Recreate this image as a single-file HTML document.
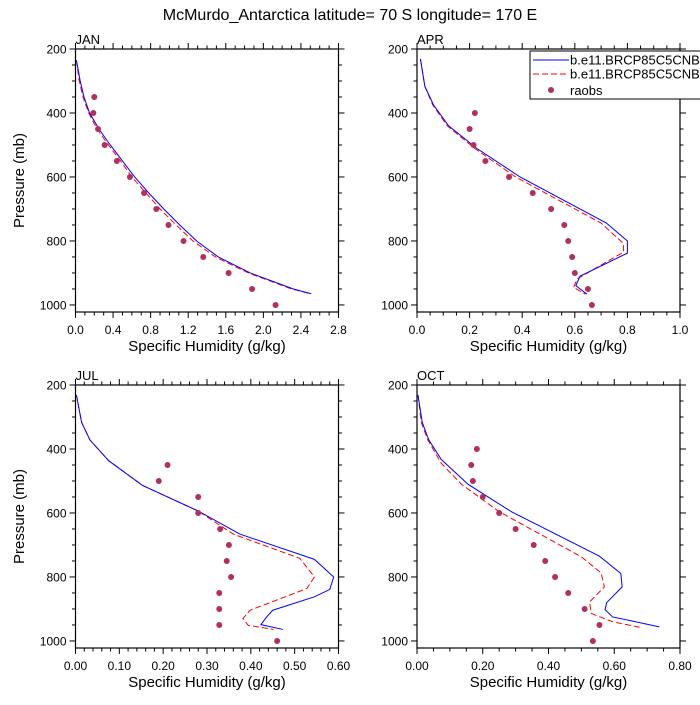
<!DOCTYPE html>
<html><head><meta charset="utf-8"><style>
body{margin:0;background:#fff}
svg text{font-family:"Liberation Sans",sans-serif;fill:#000}
</style></head><body>
<svg id="chart" width="700" height="700" viewBox="0 0 700 700" xmlns="http://www.w3.org/2000/svg">
<text x="350" y="20" font-size="16" text-anchor="middle">McMurdo_Antarctica  latitude= 70 S longitude= 170 E</text>
</svg>
<script>
// JAN
const janBlueP=[235,300,350,400,450,500,550,600,650,700,750,800,850,900,950,965];
const janBlueQ=[0.01,0.05,0.09,0.15,0.25,0.37,0.5,0.63,0.78,0.94,1.11,1.29,1.52,1.86,2.32,2.51];
const janRedP=[235,300,350,400,450,500,550,600,650,700,750,800,850,900,950,965];
const janRedQ=[0.01,0.04,0.08,0.14,0.23,0.35,0.48,0.6,0.75,0.9,1.07,1.25,1.49,1.84,2.3,2.5];
const janObsP=[350,400,450,500,550,600,650,700,750,800,850,900,950,1000];
const janObsQ=[0.2,0.19,0.24,0.31,0.44,0.58,0.73,0.86,0.99,1.15,1.36,1.63,1.88,2.13];
// APR
const aprBlueP=[231,317,375,440,511,600,744,800,838,910,940,966];
const aprBlueQ=[0.013,0.03,0.063,0.12,0.228,0.392,0.72,0.8,0.8,0.62,0.604,0.646];
const aprRedP=[231,317,375,440,511,600,744,808,835,918,945,966];
const aprRedQ=[0.013,0.03,0.06,0.115,0.22,0.375,0.7,0.785,0.785,0.61,0.595,0.64];
const aprObsP=[400,450,500,550,600,650,700,750,800,850,900,950,1000];
const aprObsQ=[0.22,0.2,0.215,0.26,0.35,0.44,0.51,0.56,0.575,0.59,0.6,0.65,0.665];
// JUL
const julBlueP=[231,317,372,437,514,594,666,745,800,839,862,904,925,949,964];
const julBlueQ=[0.002,0.014,0.033,0.076,0.153,0.28,0.375,0.545,0.589,0.58,0.545,0.45,0.436,0.423,0.473];
const julRedP=[231,317,372,437,514,594,666,742,800,836,904,930,951,964];
const julRedQ=[0.002,0.014,0.033,0.076,0.153,0.28,0.36,0.512,0.545,0.528,0.398,0.382,0.394,0.452];
const julObsP=[450,500,550,600,650,700,750,800,850,900,950,1000];
const julObsQ=[0.21,0.19,0.28,0.28,0.33,0.35,0.345,0.355,0.328,0.328,0.328,0.46];
// OCT
const octBlueP=[231,317,372,433,510,596,735,789,831,880,902,925,938,956];
const octBlueQ=[0.003,0.016,0.036,0.074,0.155,0.287,0.555,0.62,0.624,0.577,0.572,0.595,0.656,0.737];
const octRedP=[231,317,372,445,510,596,737,787,831,878,914,940,959];
const octRedQ=[0.003,0.013,0.033,0.074,0.135,0.25,0.5,0.56,0.57,0.525,0.53,0.595,0.686];
const octObsP=[400,450,500,550,600,650,700,750,800,850,900,950,1000];
const octObsQ=[0.182,0.165,0.17,0.2,0.25,0.3,0.355,0.39,0.42,0.46,0.51,0.555,0.535];

const janTicks=["0.0","0.4","0.8","1.2","1.6","2.0","2.4","2.8"];
const aprTicks=["0.0","0.2","0.4","0.6","0.8","1.0"];
const julTicks=["0.00","0.10","0.20","0.30","0.40","0.50","0.60"];
const octTicks=["0.00","0.20","0.40","0.60","0.80"];
const pTicks=[200,400,600,800,1000];

const NS="http://www.w3.org/2000/svg";
const svg=document.getElementById('chart');
function mk(tag,attrs,parent){const e=document.createElementNS(NS,tag);for(const k in attrs)e.setAttribute(k,attrs[k]);(parent||svg).appendChild(e);return e;}

const panels=[
 {id:'jan',label:'JAN',x0:75.5,y0:49,ticks:janTicks,xmax:2.8,minor:0.1,bp:janBlueP,bq:janBlueQ,rp:janRedP,rq:janRedQ,op:janObsP,oq:janObsQ,ytitle:true},
 {id:'apr',label:'APR',x0:417,y0:49,ticks:aprTicks,xmax:1.0,minor:0.05,bp:aprBlueP,bq:aprBlueQ,rp:aprRedP,rq:aprRedQ,op:aprObsP,oq:aprObsQ,ytitle:false},
 {id:'jul',label:'JUL',x0:75.5,y0:385,ticks:julTicks,xmax:0.6,minor:0.02,bp:julBlueP,bq:julBlueQ,rp:julRedP,rq:julRedQ,op:julObsP,oq:julObsQ,ytitle:true},
 {id:'oct',label:'OCT',x0:417,y0:385,ticks:octTicks,xmax:0.8,minor:0.05,bp:octBlueP,bq:octBlueQ,rp:octRedP,rq:octRedQ,op:octObsP,oq:octObsQ,ytitle:false}
];
const W=263,H=263,PMIN=200,PMAX=1022;
panels.forEach(pn=>{
  const g=mk('g',{});
  
  
  const xs=q=>pn.x0+q/pn.xmax*W;
  const ys=p=>pn.y0+(p-PMIN)/(PMAX-PMIN)*H;
  // ticks
  const nMinor=Math.round(pn.xmax/pn.minor);
  const majStep=(pn.ticks.length-1);
  for(let i=0;i<=nMinor;i++){
    const x=pn.x0+i*W/nMinor;
    const isMaj=Math.abs((i*majStep/nMinor)-Math.round(i*majStep/nMinor))<1e-6;
    const len=isMaj?6:3.5;
    const t1=mk('line',{x1:x,x2:x,y1:pn.y0+H,y2:pn.y0+H+len,stroke:'#000','stroke-width':1},g);
    
    const t2=mk('line',{x1:x,x2:x,y1:pn.y0,y2:pn.y0-len,stroke:'#000','stroke-width':1},g);
    
  }
  pn.ticks.forEach((lab,i)=>{
    const t=mk('text',{x:pn.x0+i*W/(pn.ticks.length-1),y:pn.y0+H+22,'font-size':12,'text-anchor':'middle'},g);
    t.textContent=lab;
    
  });
  for(let p=200;p<=1000;p+=50){
    const y=ys(p);const len=(p%200===0)?6:3.5;
    const a=mk('line',{x1:pn.x0-len,x2:pn.x0,y1:y,y2:y,stroke:'#000','stroke-width':1},g);
    
    const b=mk('line',{x1:pn.x0+W,x2:pn.x0+W+len,y1:y,y2:y,stroke:'#000','stroke-width':1},g);
    
  }
  pTicks.forEach(p=>{
    const t=mk('text',{x:pn.x0-9,y:ys(p)+4.5,'font-size':12,'text-anchor':'end'},g);
    t.textContent=p;
    
  });
  const fr=mk('rect',{x:pn.x0,y:pn.y0,width:W,height:H,fill:'none',stroke:'#000','stroke-width':1.2},g);
  
  const lab=mk('text',{x:pn.x0,y:pn.y0-5,'font-size':13},g);lab.textContent=pn.label;
  
  const xt=mk('text',{x:pn.x0+W/2,y:pn.y0+H+39,'font-size':15,'text-anchor':'middle'},g);xt.textContent='Specific Humidity (g/kg)';
  
  if(pn.ytitle){
    const yt=mk('text',{x:0,y:0,'font-size':15,'text-anchor':'middle',transform:`translate(24,${pn.y0+H/2}) rotate(-90)`},g);
    yt.textContent='Pressure (mb)';
    
  }
  const rl=mk('polyline',{points:pn.rp.map((p,i)=>xs(pn.rq[i])+','+ys(p)).join(' '),fill:'none',stroke:'#ff0000','stroke-width':1,'stroke-dasharray':'6,3'},g);
  
  const bl=mk('polyline',{points:pn.bp.map((p,i)=>xs(pn.bq[i])+','+ys(p)).join(' '),fill:'none',stroke:'#0000ff','stroke-width':1},g);
  
  pn.op.forEach((p,i)=>{
    const c=mk('circle',{cx:xs(pn.oq[i]),cy:ys(p),r:3,fill:'#b03060'},g);
    
  });
});
// legend
const lg=mk('g',{});


mk('rect',{x:530,y:51,width:175,height:48,fill:'#fff',stroke:'#000','stroke-width':1},lg);
const l1=mk('line',{x1:533,x2:569,y1:60,y2:60,stroke:'#0000ff','stroke-width':1},lg);

const t1=mk('text',{x:570,y:64.5,'font-size':13},lg);t1.textContent='b.e11.BRCP85C5CNBDRD';

const l2=mk('line',{x1:533,x2:569,y1:74,y2:74,stroke:'#ff0000','stroke-width':1,'stroke-dasharray':'6,3'},lg);

const t2=mk('text',{x:570,y:78.5,'font-size':13},lg);t2.textContent='b.e11.BRCP85C5CNBDRD';

const c3=mk('circle',{cx:551,cy:90,r:3,fill:'#b03060'},lg);

const t3=mk('text',{x:570,y:95,'font-size':13},lg);t3.textContent='raobs';

</script>
</body></html>
